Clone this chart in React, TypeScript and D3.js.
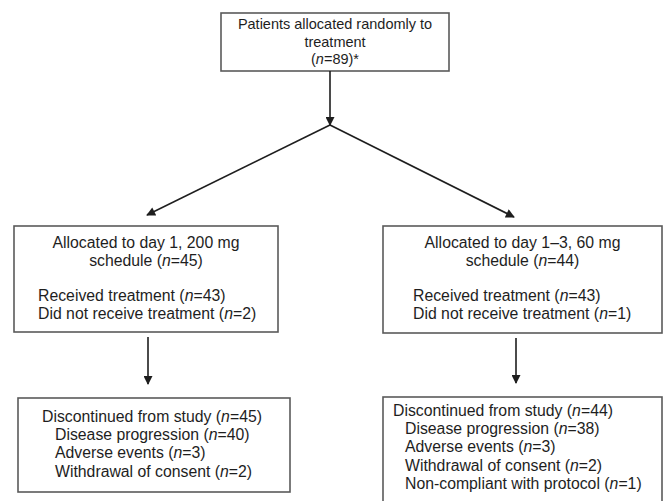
import React from 'react';
import * as d3 from 'd3';

// box texts (n in brackets is rendered in italics)
const topLines = ['Patients allocated randomly to', 'treatment', '(n=89)*'];
const armTitles = [
  ['Allocated to day 1, 200 mg', 'schedule (n=45)'],
  ['Allocated to day 1\u20133, 60 mg', 'schedule (n=44)'],
];
const armTreatment = [
  ['Received treatment (n=43)', 'Did not receive treatment (n=2)'],
  ['Received treatment (n=43)', 'Did not receive treatment (n=1)'],
];
const discHeads = ['Discontinued from study (n=45)', 'Discontinued from study (n=44)'];
const discReasons = [
  ['Disease progression (n=40)', 'Adverse events (n=3)', 'Withdrawal of consent (n=2)'],
  ['Disease progression (n=38)', 'Adverse events (n=3)', 'Withdrawal of consent (n=2)', 'Non-compliant with protocol (n=1)'],
];

const W = 667;
const H = 501;
const FONT = 'Liberation Sans, Arial, sans-serif';
const FS_TOP = 14.5;
const FS = 15.8;
const LH = 18.2;
const BORDER = '#5a5a5a';
const INK = '#1e1e1e';

// layout of the boxes
const topBox = {x: 221, y: 13, w: 228, h: 58};
const armBoxes = [
  {x: 14, y: 226, w: 264, h: 106},
  {x: 383, y: 226, w: 279, h: 107},
];
const discBoxes = [
  {x: 18, y: 398, w: 272, h: 94},
  {x: 383, y: 397, w: 279, h: 112},
];
const junction = {x: 330, y: 125};

function Line({text, x, y, anchor, size = FS}: {text: string; x: number; y: number; anchor: string; size?: number}) {
  const parts = text.split('n=');
  return (
    <text x={x} y={y} textAnchor={anchor} fontFamily={FONT} fontSize={size} fill={INK}>
      {parts.length === 1 ? text : (
        <>
          {parts[0]}
          <tspan fontStyle="italic">n</tspan>
          {'=' + parts[1]}
        </>
      )}
    </text>
  );
}

const Box = ({b}: {b: {x: number; y: number; w: number; h: number}}) => (
  <rect x={b.x} y={b.y} width={b.w} height={b.h} fill="#fff" stroke={BORDER} strokeWidth={1.6} />
);

export default function App() {
  const line = d3.line<[number, number]>();
  const topCx = topBox.x + topBox.w / 2;
  const armCx = [148, 516];
  const armTextX = [38, 413];
  const discHeadX = [42, 393];
  const discItemX = [55, 405];
  const discFirst = [24, 19];
  const arrowsToArms: [number, number][][] = [
    [[junction.x, junction.y], [147, 215]],
    [[junction.x, junction.y], [514, 217]],
  ];

  return (
    <svg width={W} height={H} style={{position: 'absolute', left: 0, top: 0, background: '#fff'}}>
      <defs>
        <marker id="arr" viewBox="0 0 10 10" refX={9} refY={5} markerWidth={10} markerHeight={9}
                markerUnits="userSpaceOnUse" orient="auto">
          <path d="M0,0 L10,5 L0,10 z" fill={INK} />
        </marker>
      </defs>

      {/* top box */}
      <Box b={topBox} />
      {topLines.map((t, i) => (
        <Line key={i} text={t} x={topCx} y={topBox.y + 16 + i * 17.5} anchor="middle" size={FS_TOP} />
      ))}
      <path d={line([[junction.x, topBox.y + topBox.h], [junction.x, junction.y]])!} stroke={INK}
            strokeWidth={1.6} markerEnd="url(#arr)" />
      {arrowsToArms.map((pts, i) => (
        <path key={i} d={line(pts)!} stroke={INK} strokeWidth={1.6} markerEnd="url(#arr)" />
      ))}

      {/* arm boxes */}
      {armBoxes.map((b, i) => (
        <g key={i}>
          <Box b={b} />
          {armTitles[i].map((t, j) => (
            <Line key={'t' + j} text={t} x={b.x + b.w / 2} y={b.y + 22 + j * LH} anchor="middle" />
          ))}
          {armTreatment[i].map((t, j) => (
            <Line key={'r' + j} text={t} x={armTextX[i]} y={b.y + 75 + j * LH} anchor="start" />
          ))}
          <path d={line([[armCx[i], b.y + b.h + 5], [armCx[i], discBoxes[i].y - 14]])!} stroke={INK}
                strokeWidth={1.6} markerEnd="url(#arr)" />
        </g>
      ))}

      {/* discontinuation boxes */}
      {discBoxes.map((b, i) => (
        <g key={i}>
          <Box b={b} />
          <Line text={discHeads[i]} x={discHeadX[i]} y={b.y + discFirst[i]} anchor="start" />
          {discReasons[i].map((t, j) => (
            <Line key={j} text={t} x={discItemX[i]} y={b.y + discFirst[i] + (j + 1) * LH} anchor="start" />
          ))}
        </g>
      ))}
    </svg>
  );
}
